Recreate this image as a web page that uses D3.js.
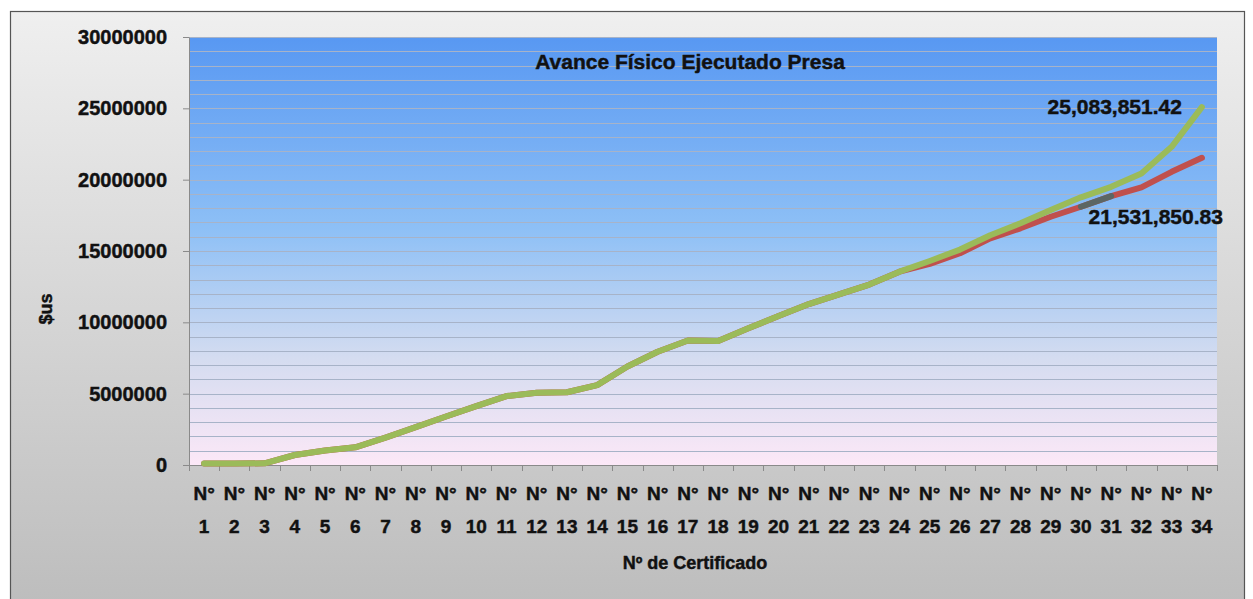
<!DOCTYPE html>
<html>
<head>
<meta charset="utf-8">
<script src="https://cdn.jsdelivr.net/npm/d3@7"></script>
<style>
  html, body { margin: 0; padding: 0; background: #ffffff; }
  svg { display: block; }
  text { font-family: "Liberation Sans", Arial, sans-serif; font-weight: bold; fill: #111; stroke: #111; stroke-width: 0.45px; }
</style>
</head>
<body>
<svg id="chart" width="1253" height="599"></svg>
<script>
// Certificate labels along the x axis
const categories = [
  "N° 1","N° 2","N° 3","N° 4","N° 5","N° 6","N° 7","N° 8","N° 9","N° 10",
  "N° 11","N° 12","N° 13","N° 14","N° 15","N° 16","N° 17","N° 18","N° 19","N° 20",
  "N° 21","N° 22","N° 23","N° 24","N° 25","N° 26","N° 27","N° 28","N° 29","N° 30",
  "N° 31","N° 32","N° 33","N° 34"
];

// Cumulative amounts ($us) — upper (green) series
const seriesGreen = [
  100000, 100000, 120000, 700000, 1020000, 1240000, 1920000, 2650000, 3400000, 4130000,
  4830000, 5070000, 5100000, 5600000, 6900000, 7940000, 8730000, 8690000, 9580000, 10440000,
  11280000, 11960000, 12650000, 13550000, 14300000, 15100000, 16100000, 16940000, 17870000, 18760000,
  19500000, 20440000, 22300000, 25083851.42
];

// Cumulative amounts ($us) — lower (red) series
const seriesRed = [
  100000, 100000, 120000, 700000, 1020000, 1240000, 1920000, 2650000, 3400000, 4130000,
  4830000, 5070000, 5100000, 5600000, 6900000, 7940000, 8730000, 8690000, 9580000, 10440000,
  11280000, 11960000, 12650000, 13550000, 14100000, 14840000, 15890000, 16590000, 17400000, 18100000,
  18850000, 19460000, 20550000, 21531850.83
];

// Short dark segment between certificates 30 and 31
const seriesGray = [
  null, null, null, null, null, null, null, null, null, null,
  null, null, null, null, null, null, null, null, null, null,
  null, null, null, null, null, null, null, null, null, 18100000,
  18850000, null, null, null
];

const yTicks = [0, 5000000, 10000000, 15000000, 20000000, 25000000, 30000000];
const yMinorStep = 1000000;

const chartTitle = "Avance Físico Ejecutado Presa";
const xTitle = "Nº de Certificado";
const yTitle = "$us";

const plot = { left: 189, top: 37, right: 1217, bottom: 465 };

const svg = d3.select("#chart");
const defs = svg.append("defs");

// Outer chart area gradient
const gOuter = defs.append("linearGradient").attr("id", "outerGrad")
  .attr("x1", 0).attr("y1", 0).attr("x2", 0).attr("y2", 1);
gOuter.append("stop").attr("offset", "0%").attr("stop-color", "#efefef");
gOuter.append("stop").attr("offset", "100%").attr("stop-color", "#bdbdbd");

// Plot area gradient: blue at top fading to pale pink
const gPlot = defs.append("linearGradient").attr("id", "plotGrad")
  .attr("x1", 0).attr("y1", 0).attr("x2", 0).attr("y2", 1);
gPlot.append("stop").attr("offset", "0%").attr("stop-color", "#5898f2");
gPlot.append("stop").attr("offset", "45%").attr("stop-color", "#8ec0f6");
gPlot.append("stop").attr("offset", "75%").attr("stop-color", "#d4dcf0");
gPlot.append("stop").attr("offset", "100%").attr("stop-color", "#fce8f7");

svg.append("rect")
  .attr("x", 10.5).attr("y", 11.5)
  .attr("width", 1234).attr("height", 592)
  .attr("fill", "url(#outerGrad)")
  .attr("stroke", "#555").attr("stroke-width", 1.2);

const x = d3.scaleBand().domain(categories).range([plot.left, plot.right]).padding(0);
const y = d3.scaleLinear().domain([0, 30000000]).range([plot.bottom, plot.top]);

svg.append("rect")
  .attr("x", plot.left).attr("y", plot.top)
  .attr("width", plot.right - plot.left).attr("height", plot.bottom - plot.top)
  .attr("fill", "url(#plotGrad)");

// Horizontal gridlines every 1,000,000
const gridVals = d3.range(yMinorStep, 30000000 + 1, yMinorStep);
svg.append("g").selectAll("line").data(gridVals).join("line")
  .attr("x1", plot.left).attr("x2", plot.right)
  .attr("y1", d => Math.round(y(d)) + 0.5).attr("y2", d => Math.round(y(d)) + 0.5)
  .attr("stroke", "#a7b3c8").attr("stroke-width", 1);

// Y axis
const yAxis = d3.axisLeft(y).tickValues(yTicks).tickFormat(d3.format("d"))
  .tickSizeInner(6).tickSizeOuter(0).tickPadding(16);
const gy = svg.append("g").attr("transform", `translate(${plot.left},0)`).call(yAxis);
gy.select(".domain").attr("stroke", "#8a8a8a");
gy.selectAll(".tick line").attr("stroke", "#8a8a8a");
gy.selectAll(".tick text").style("font-size", "20px").attr("fill", "#111");

// X axis with tick marks at category boundaries
const gx = svg.append("g").attr("transform", `translate(0,${plot.bottom})`);
gx.append("line").attr("x1", plot.left).attr("x2", plot.right)
  .attr("y1", 0.5).attr("y2", 0.5).attr("stroke", "#8a8a8a");
const bounds = categories.map(c => x(c)).concat([plot.right]);
gx.selectAll("line.tk").data(bounds).join("line").attr("class", "tk")
  .attr("x1", d => Math.round(d) + 0.5).attr("x2", d => Math.round(d) + 0.5)
  .attr("y1", 0).attr("y2", 6).attr("stroke", "#8a8a8a");

// Two-line category labels
const lbl = gx.selectAll("text.cat").data(categories).join("text").attr("class", "cat")
  .attr("text-anchor", "middle")
  .style("font-size", "19px");
lbl.each(function (d) {
  const parts = d.split(" ");
  const cx = x(d) + x.bandwidth() / 2;
  const t = d3.select(this);
  t.append("tspan").attr("x", cx).attr("y", 35).text(parts[0]);
  t.append("tspan").attr("x", cx).attr("y", 68).text(parts[1]);
});

// Lines
const line = d3.line()
  .defined(d => d != null)
  .x((d, i) => x(categories[i]) + x.bandwidth() / 2)
  .y(d => y(d))
  .curve(d3.curveLinear);

const lines = [
  { data: seriesRed, color: "#c0504d" },
  { data: seriesGray, color: "#5c6664" },
  { data: seriesGreen, color: "#9bbb59" }
];
svg.append("g").selectAll("path").data(lines).join("path")
  .attr("d", d => line(d.data))
  .attr("fill", "none")
  .attr("stroke", d => d.color)
  .attr("stroke-width", 6)
  .attr("stroke-linejoin", "round")
  .attr("stroke-linecap", "round");

// Value labels on the last points
const last = categories.length - 1;
const lastX = x(categories[last]) + x.bandwidth() / 2;
const fmt = d3.format(",.2f");
svg.append("text")
  .attr("x", lastX - 20).attr("y", y(seriesGreen[last]) + 7)
  .attr("text-anchor", "end")
  .style("font-size", "21px")
  .text(fmt(seriesGreen[last]));
svg.append("text")
  .attr("x", lastX + 21).attr("y", y(seriesRed[last]) + 66)
  .attr("text-anchor", "end")
  .style("font-size", "21px")
  .text(fmt(seriesRed[last]));

// Titles
svg.append("text")
  .attr("x", 690).attr("y", 69)
  .attr("text-anchor", "middle")
  .style("font-size", "21px")
  .text(chartTitle);

svg.append("text")
  .attr("x", 695).attr("y", 569)
  .attr("text-anchor", "middle")
  .style("font-size", "18px")
  .text(xTitle);

svg.append("text")
  .attr("transform", "translate(52,309) rotate(-90)")
  .attr("text-anchor", "middle")
  .style("font-size", "18px")
  .text(yTitle);
</script>
</body>
</html>
